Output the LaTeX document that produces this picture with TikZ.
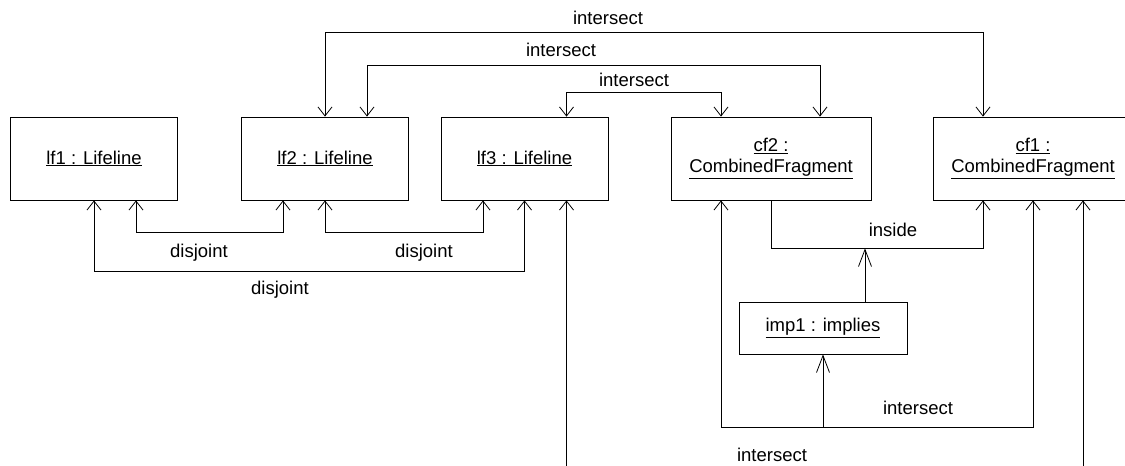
\documentclass[tikz,border=0pt]{standalone}
\usepackage{fontspec}
\setmainfont{Liberation Sans}
\usepackage{tikz}
\usetikzlibrary{arrows.meta,positioning,calc}
\tikzset{
	objbox/.style={draw, line width=0.8pt, align=center, inner sep=0pt, minimum height=83pt},
	assoc/.style={line width=0.8pt, <->, >={Straight Barb[length=9pt,width=14pt]}},
	oneway/.style={line width=0.8pt, ->, >={Straight Barb[length=9pt,width=14pt]}},
	longway/.style={line width=0.8pt, ->, >={Straight Barb[length=17pt,width=13pt]}},
	rolelabel/.style={inner sep=0pt}
}

\begin{document}
\begin{tikzpicture}[x=1pt, y=-1pt, font=\fontsize{18.5}{21}\selectfont]
	
	\useasboundingbox (0,0) rectangle (1125,466);
	\clip (0,0) rectangle (1125,466);
	
	%% -- Lifelines (top row, left)
	\node[objbox, minimum width=167pt] (lf1) at (94,158.5) {\underline{lf1 : Lifeline}};
	\node[objbox, minimum width=167pt] (lf2) at (325,158.5) {\underline{lf2 : Lifeline}};
	\node[objbox, minimum width=167pt] (lf3) at (524.5,158.5) {\underline{lf3 : Lifeline}};
	
	%% -- Combined fragments (top row, right)
	\node[objbox, minimum width=200pt] (cf2) at (771,158.5)
	{\underline{cf2 :}\\\underline{CombinedFragment}};
	\node[objbox, minimum width=200pt] (cf1) at (1033,158.5)
	{\underline{cf1 :}\\\underline{CombinedFragment}};
	
	%% -- Implication (below the fragments)
	\node[objbox, minimum width=168pt, minimum height=52pt] (imp1) at (823,328)
	{\underline{imp1 : implies}};
	
	%% -- disjoint links under the lifelines
	\draw[assoc] ([xshift=42]lf1.south) -- ++(0,32) -| ([xshift=-42]lf2.south);
	\draw[assoc] (lf1.south) -- ++(0,71) -| (lf3.south);
	\draw[assoc] (lf2.south) -- ++(0,32) -| ([xshift=-41.5]lf3.south);
	\node[rolelabel] (dj1) at (199,253) {disjoint};
	\node[rolelabel] (dj2) at (280,290) {disjoint};
	\node[rolelabel] (dj3) at (424,253) {disjoint};
	
	%% -- intersect links over the top
	\draw[assoc] (lf2.north) -- ++(0,-84) -| ([xshift=-50]cf1.north);
	\draw[assoc] ([xshift=42]lf2.north) -- ++(0,-51) -| ([xshift=49]cf2.north);
	\draw[assoc] ([xshift=42]lf3.north) -- ++(0,-24) -| ([xshift=-50]cf2.north);
	\node[rolelabel] (is1) at (608,18) {intersect};
	\node[rolelabel] (is2) at (561,50) {intersect};
	\node[rolelabel] (is3) at (634,80) {intersect};
	
	%% -- inside: cf2 within cf1
	\draw[oneway] (cf2.south) -- ++(0,48) coordinate (insidebar) -| ([xshift=-50]cf1.south);
	\node[rolelabel] (ins) at (893,230) {inside};
	
	%% -- intersect links below the fragments
	\draw[assoc] ([xshift=-50]cf2.south) -- ++(0,227) coordinate (crossbar) -| (cf1.south);
	\node[rolelabel] (is4) at (918,408) {intersect};
	\draw[assoc] ([xshift=42]lf3.south) -- ++(0,300) -| ([xshift=50]cf1.south);
	\node[rolelabel] (is5) at (772,455) {intersect};
	
	%% -- imp1 hangs between the two links
	\draw[longway] (imp1.south |- crossbar) -- (imp1.south);
	\draw[longway] ([xshift=42]imp1.north) -- ([xshift=42]imp1.north |- insidebar);
	
\end{tikzpicture}
\end{document}
